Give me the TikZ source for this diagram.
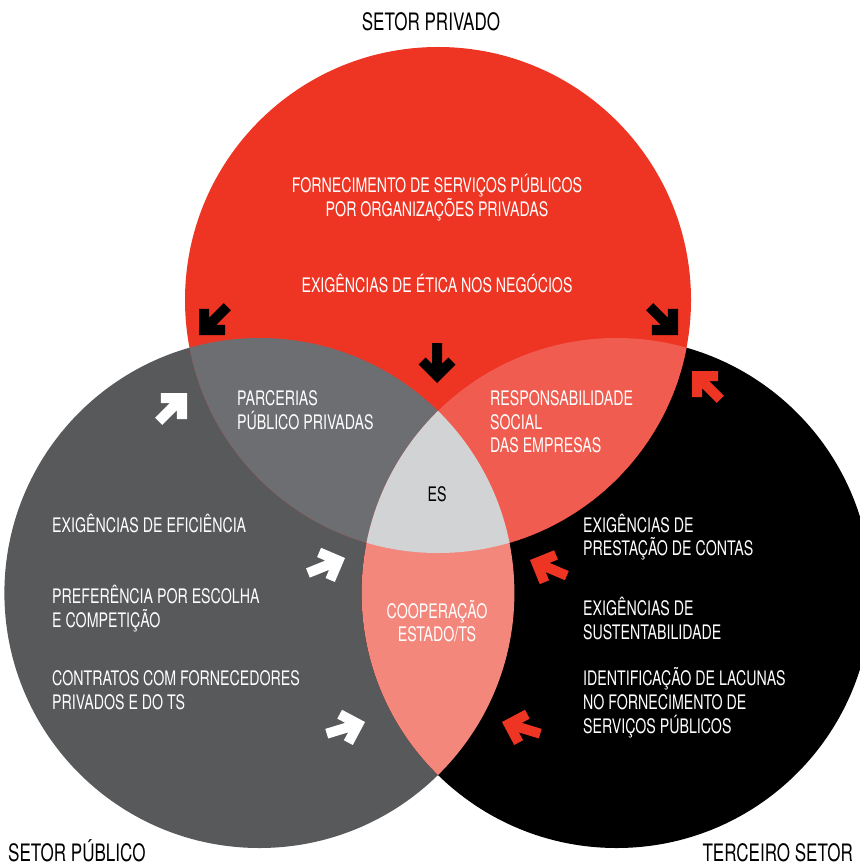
\documentclass[tikz,border=0pt]{standalone}
\usepackage{fontspec}
\setmainfont[FakeStretch=0.71]{TeX Gyre Heros}
\definecolor{redT}{RGB}{238,53,36}
\definecolor{greyL}{RGB}{88,89,91}
\definecolor{greyTL}{RGB}{109,110,114}
\definecolor{redTR}{RGB}{241,92,80}
\definecolor{salmonLR}{RGB}{244,135,124}
\definecolor{greyES}{RGB}{209,211,212}
\begin{document}
\begin{tikzpicture}[x=1pt,y=-1pt,
  body/.style={font=\fontsize{20}{24}\selectfont, text=white, inner sep=0pt, anchor=base west},
  bodyc/.style={body, anchor=base},
  sector/.style={font=\fontsize{24}{28}\selectfont, text=black, inner sep=0pt},
  chev/.pic={\fill[#1] (0pt,0pt) -- (-18.4pt,-18.4pt) -- (-25.5pt,-11.3pt) -- (-19.2pt,-5pt)
      -- (-40pt,-5pt) -- (-40pt,5pt) -- (-19.2pt,5pt) -- (-25.5pt,11.3pt) -- (-18.4pt,18.4pt) -- cycle;}
]
\useasboundingbox (0,0) rectangle (859,866);

% circle centres
\coordinate (cT) at (438,300);
\coordinate (cL) at (259.4,593);
\coordinate (cR) at (616.6,593);

% single sectors
\fill[greyL] (cL) circle[radius=255pt];
\fill[black] (cR) circle[radius=255pt];
\fill[redT]  (cT) circle[radius=253pt];

% pairwise overlaps with the private sector
\begin{scope}
  \clip (cT) circle[radius=253pt];
  \fill[greyTL] (cL) circle[radius=255pt];
  \fill[redTR]  (cR) circle[radius=255pt];
\end{scope}

% state / third sector overlap and the common core
\begin{scope}
  \clip (cL) circle[radius=255pt];
  \fill[salmonLR] (cR) circle[radius=255pt];
  \clip (cT) circle[radius=253pt];
  \fill[greyES] (cR) circle[radius=255pt];
\end{scope}

% arrows
\pic[rotate=225] (a1) at (199,335) {chev=black};
\pic[rotate=-45] (a2) at (678,335) {chev=black};
\pic[rotate=-90] (a3) at (437,383) {chev=black};
\pic[rotate=135] (a4) at (692,371) {chev=redT};
\pic[rotate=45]  (a5) at (187,393) {chev=white};
\pic[rotate=22]  (a6) at (345,558) {chev=white};
\pic[rotate=17]  (a7) at (365,722) {chev=white};
\pic[rotate=157] (a8) at (530,560) {chev=redT};
\pic[rotate=163] (a9) at (502,722) {chev=redT};

% sector names
\node[sector, anchor=base] (sPriv) at (431,31) {SETOR PRIVADO};
\node[sector, anchor=base west] (sPub) at (8,861) {SETOR PÚBLICO};
\node[sector, anchor=base east] (sTer) at (853,861) {TERCEIRO SETOR};

% private sector
\node[bodyc] (f1) at (437,193) {FORNECIMENTO DE SERVIÇOS PÚBLICOS};
\node[bodyc] (f2) at (437,217) {POR ORGANIZAÇÕES PRIVADAS};
\node[bodyc] (e1) at (437,292) {EXIGÊNCIAS DE ÉTICA NOS NEGÓCIOS};

% overlaps
\node[body] (pp1) at (237,405) {PARCERIAS};
\node[body] (pp2) at (237,429) {PÚBLICO PRIVADAS};
\node[body] (rs1) at (490,405) {RESPONSABILIDADE};
\node[body] (rs2) at (490,429) {SOCIAL};
\node[body] (rs3) at (490,452) {DAS EMPRESAS};
\node[bodyc, text=black] (es) at (437,501) {ES};
\node[bodyc] (co1) at (437,618) {COOPERAÇÃO};
\node[bodyc] (co2) at (437,641) {ESTADO/TS};

% public sector
\node[body] (p1) at (52,532) {EXIGÊNCIAS DE EFICIÊNCIA};
\node[body] (p2) at (52,603) {PREFERÊNCIA POR ESCOLHA};
\node[body] (p3) at (52,627) {E COMPETIÇÃO};
\node[body] (p4) at (52,685) {CONTRATOS COM FORNECEDORES};
\node[body] (p5) at (52,709) {PRIVADOS E DO TS};

% third sector
\node[body] (t1) at (583,532) {EXIGÊNCIAS DE};
\node[body] (t2) at (583,555) {PRESTAÇÃO DE CONTAS};
\node[body] (t3) at (583,615) {EXIGÊNCIAS DE};
\node[body] (t4) at (583,639) {SUSTENTABILIDADE};
\node[body] (t5) at (583,685) {IDENTIFICAÇÃO DE LACUNAS};
\node[body] (t6) at (583,709) {NO FORNECIMENTO DE};
\node[body] (t7) at (583,733) {SERVIÇOS PÚBLICOS};
\end{tikzpicture}
\end{document}
